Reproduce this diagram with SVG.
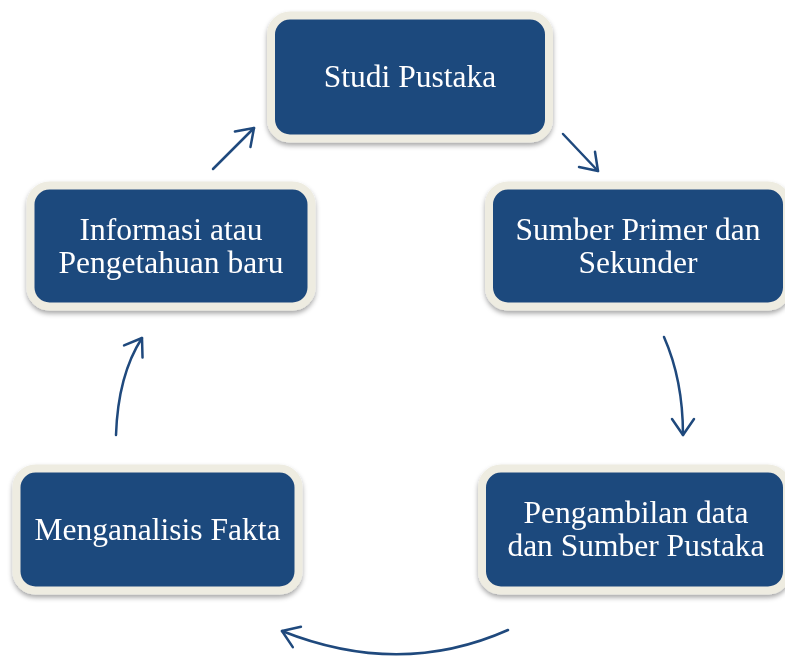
<svg xmlns="http://www.w3.org/2000/svg" width="785" height="656" viewBox="0 0 785 656">
<style>
.box{fill:#1F497D;stroke:#EEECE1;stroke-width:8}
.lbl{font-family:"Liberation Serif","Times New Roman",serif;font-size:31.5px;fill:#FFFFFF;text-anchor:middle}
.conn{fill:none;stroke:#1F497D;stroke-width:2.5;stroke-linecap:round;marker-end:url(#arr)}
</style>
<defs>
<filter id="sh" x="-10%" y="-10%" width="120%" height="130%">
<feDropShadow dx="0" dy="3" stdDeviation="2.5" flood-color="#000000" flood-opacity="0.35"/>
</filter>
<marker id="arr" markerUnits="userSpaceOnUse" viewBox="-20 -14 24 28" refX="0" refY="0" markerWidth="24" markerHeight="28" orient="auto">
<path d="M-16,-11 L0,0 L-16,11" fill="none" stroke="#1F497D" stroke-width="2.5" stroke-linecap="round" stroke-linejoin="round"/>
</marker>
</defs>
<rect width="785" height="656" fill="#FFFFFF"/>
<g id="connectors">
<path class="conn" d="M563,134 L598,171"/>
<path class="conn" d="M664,337 Q683,380 683,435"/>
<path class="conn" d="M508,630 Q400,678 282,631"/>
<path class="conn" d="M116,435 Q118,375 142,338"/>
<path class="conn" d="M213,169 L254,128"/>
</g>
<g id="node-studi-pustaka" filter="url(#sh)">
<rect class="box" x="271" y="15.5" width="278" height="123" rx="19"/>
<text class="lbl" x="410" y="87">Studi Pustaka</text>
</g>
<g id="node-sumber-primer" filter="url(#sh)">
<rect class="box" x="489" y="185.5" width="298" height="121" rx="19"/>
<text class="lbl" x="638" y="240">Sumber Primer dan</text>
<text class="lbl" x="638" y="273">Sekunder</text>
</g>
<g id="node-pengambilan" filter="url(#sh)">
<rect class="box" x="482" y="468.5" width="305" height="122" rx="19"/>
<text class="lbl" x="636" y="523">Pengambilan data</text>
<text class="lbl" x="636" y="556">dan Sumber Pustaka</text>
</g>
<g id="node-menganalisis" filter="url(#sh)">
<rect class="box" x="16.5" y="468.5" width="282" height="122" rx="19"/>
<text class="lbl" x="157.5" y="540">Menganalisis Fakta</text>
</g>
<g id="node-informasi" filter="url(#sh)">
<rect class="box" x="30.5" y="185.5" width="281" height="121" rx="19"/>
<text class="lbl" x="171" y="240">Informasi atau</text>
<text class="lbl" x="171" y="273">Pengetahuan baru</text>
</g>
</svg>
